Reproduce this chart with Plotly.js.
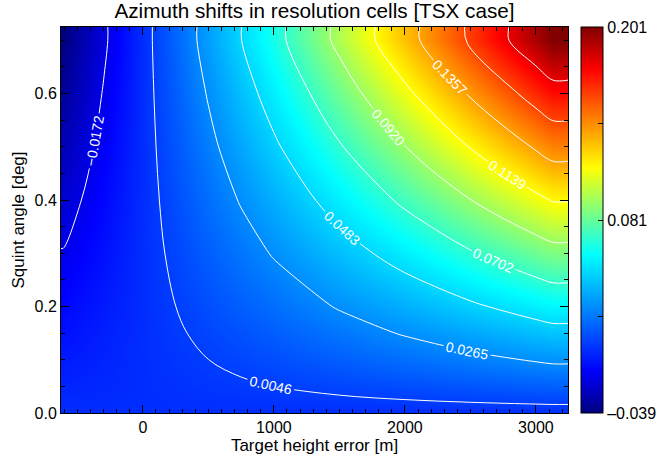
<!DOCTYPE html>
<html>
<head>
<meta charset="utf-8">
<script src="https://cdn.plot.ly/plotly-3.0.1.min.js"></script>
<style>html,body{margin:0;padding:0;background:#fff;}#chart{width:658px;height:463px;}</style>
</head>
<body>
<div id="chart"></div>
<script>
// Target height error [m] (grid columns; the outermost columns repeat their neighbours, as in the picture)
const heightError = [-625, -608, -300, 0, 250, 500, 750, 1000, 1500, 2000, 2500, 3000, 3130, 3245];
// Squint angle [deg] (grid rows; the top row repeats the 0.70 row, as in the picture)
const squintAngle = [0, 0.05, 0.1, 0.15, 0.2, 0.3, 0.4, 0.5, 0.6, 0.7, 0.725];
// Azimuth shift in resolution cells, one row per squint angle
const row000 = [0, 0, 0, 0, 0, 0, 0, 0, 0, 0, 0, 0, 0, 0];
const row005 = [-0.0028, -0.0028, -0.0014, 0, 0.0011, 0.0023, 0.0034, 0.0046, 0.0069, 0.0092, 0.0115, 0.0138, 0.0144, 0.0144];
const row010 = [-0.0056, -0.0056, -0.0028, 0, 0.0023, 0.0046, 0.0069, 0.0092, 0.0138, 0.0183, 0.0229, 0.0275, 0.0287, 0.0287];
const row015 = [-0.0084, -0.0084, -0.0041, 0, 0.0034, 0.0069, 0.0103, 0.0138, 0.0206, 0.0275, 0.0344, 0.0413, 0.0431, 0.0431];
const row020 = [-0.0112, -0.0112, -0.0055, 0, 0.0046, 0.0092, 0.0138, 0.0183, 0.0275, 0.0367, 0.0459, 0.0550, 0.0574, 0.0574];
const row030 = [-0.0167, -0.0167, -0.0083, 0, 0.0069, 0.0138, 0.0206, 0.0275, 0.0413, 0.0550, 0.0688, 0.0825, 0.0861, 0.0861];
const row040 = [-0.0223, -0.0223, -0.0110, 0, 0.0092, 0.0183, 0.0275, 0.0367, 0.0550, 0.0734, 0.0917, 0.1100, 0.1148, 0.1148];
const row050 = [-0.0279, -0.0279, -0.0138, 0, 0.0115, 0.0229, 0.0344, 0.0459, 0.0688, 0.0917, 0.1146, 0.1376, 0.1435, 0.1435];
const row060 = [-0.0335, -0.0335, -0.0165, 0, 0.0138, 0.0275, 0.0413, 0.0550, 0.0825, 0.1100, 0.1376, 0.1651, 0.1722, 0.1722];
const row070 = [-0.0390, -0.0390, -0.0193, 0, 0.0160, 0.0321, 0.0481, 0.0642, 0.0963, 0.1284, 0.1605, 0.1926, 0.2009, 0.2009];
const row0725 = [-0.0390, -0.0390, -0.0193, 0, 0.0160, 0.0321, 0.0481, 0.0642, 0.0963, 0.1284, 0.1605, 0.1926, 0.2009, 0.2009];
const shiftRows = [row000, row005, row010, row015, row020, row030, row040, row050, row060, row070, row0725];

// Colour bar
const cbMin = -0.039, cbMax = 0.201;
const cbTickVals = [-0.039, 0.021, 0.081, 0.141, 0.201];
const cbTickText = ['\u20130.039', '', '0.081', '', '0.201'];
// Contour levels
const levelStart = -0.01722, levelEnd = 0.1800, levelStep = 0.02185;

const jet = [
  [0.0, 'rgb(0,0,128)'],
  [0.11, 'rgb(0,0,255)'],
  [0.41, 'rgb(0,255,255)'],
  [0.635, 'rgb(255,255,0)'],
  [0.89, 'rgb(255,0,0)'],
  [1.0, 'rgb(128,0,0)']
];

const FONT = 'Liberation Sans, Arial, Helvetica, sans-serif';

const heat = {
  type: 'heatmap',
  x: heightError, y: squintAngle, z: shiftRows,
  zsmooth: 'best',
  zmin: cbMin, zmax: cbMax,
  colorscale: jet,
  hoverinfo: 'skip',
  colorbar: {
    x: 1.0256, xanchor: 'left', xref: 'paper',
    y: 0.5, yanchor: 'middle', len: 1, lenmode: 'fraction',
    thickness: 22, thicknessmode: 'pixels',
    xpad: 0, ypad: 0,
    outlinecolor: '#000', outlinewidth: 1,
    tickmode: 'array', tickvals: cbTickVals, ticktext: cbTickText,
    ticks: 'inside', ticklen: 5, tickcolor: '#000',
    tickfont: {family: FONT, size: 16, color: '#000'}
  }
};

const lines = {
  type: 'contour',
  x: heightError, y: squintAngle, z: shiftRows,
  autocontour: false,
  contours: {
    start: levelStart, end: levelEnd, size: levelStep,
    coloring: 'none', showlabels: true,
    labelformat: '.4f',
    labelfont: {family: FONT, size: 14, color: '#fff'}
  },
  line: {color: '#fff', width: 1, smoothing: 1},
  showscale: false,
  hoverinfo: 'skip'
};

const layout = {
  width: 658, height: 463,
  margin: {l: 61, r: 90, t: 27, b: 50, autoexpand: false},
  paper_bgcolor: '#fff', plot_bgcolor: '#fff',
  font: {family: FONT, size: 16, color: '#000'},
  showlegend: false,
  title: {
    text: 'Azimuth shifts in resolution cells [TSX case]',
    font: {family: FONT, size: 20.7, color: '#000'},
    x: 0.5, xref: 'paper', xanchor: 'center',
    y: 0.992, yref: 'container', yanchor: 'top', pad: {t: 0, b: 0}
  },
  xaxis: {
    range: [-625, 3245],
    title: {text: 'Target height error [m]', font: {family: FONT, size: 17}, standoff: 2},
    tickmode: 'linear', tick0: 0, dtick: 1000,
    ticks: 'inside', ticklen: 8, tickcolor: '#000', tickwidth: 1,
    minor: {dtick: 100, tick0: 0, ticks: 'inside', ticklen: 4, tickcolor: '#000'},
    showline: true, linecolor: '#000', linewidth: 1, mirror: 'ticks',
    showgrid: false, zeroline: false,
    tickfont: {family: FONT, size: 16}
  },
  yaxis: {
    range: [0, 0.725],
    title: {text: 'Squint angle [deg]', font: {family: FONT, size: 17}, standoff: 5},
    tickmode: 'linear', tick0: 0, dtick: 0.2, tickformat: '.1f',
    ticks: 'inside', ticklen: 8, tickcolor: '#000', tickwidth: 1,
    minor: {dtick: 0.05, tick0: 0, ticks: 'inside', ticklen: 4, tickcolor: '#000'},
    showline: true, linecolor: '#000', linewidth: 1, mirror: 'ticks',
    showgrid: false, zeroline: false,
    tickfont: {family: FONT, size: 16}
  }
};

Plotly.newPlot('chart', [heat, lines], layout, {displayModeBar: false, staticPlot: true});
</script>
</body>
</html>
